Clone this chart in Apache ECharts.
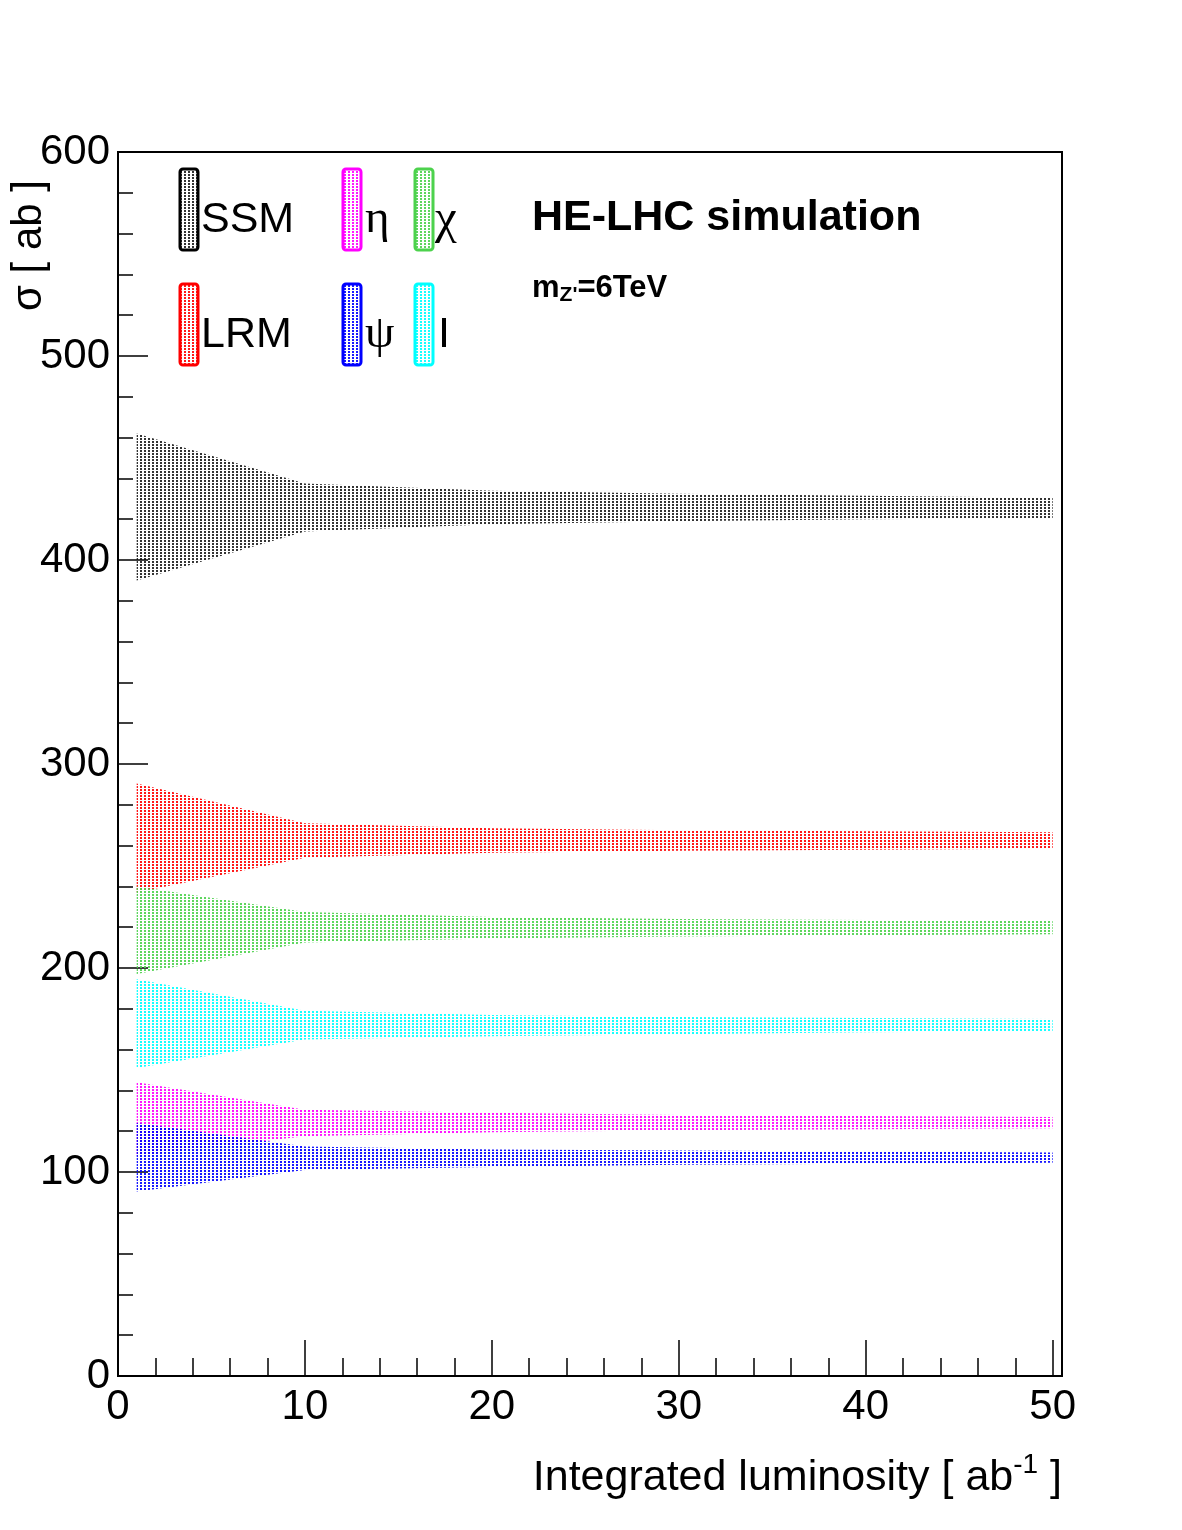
<!DOCTYPE html>
<html><head><meta charset="utf-8">
<script src="https://cdn.jsdelivr.net/npm/echarts@6/dist/echarts.min.js"></script>
<style>html,body{margin:0;padding:0;background:#fff}#c{width:1182px;height:1530px}</style>
</head><body><div id="c"></div>
<script>
// ---- data ----
const lumi = [1, 10, 20, 30, 40, 50];
const models = ['SSM', 'LRM', 'χ', 'I', 'η', 'ψ'];
const ssmUpper = [462, 437.5, 434, 432.5, 431.5, 430.5];
const ssmLower = [390, 414, 417.5, 419, 420, 420.5];
const lrmUpper = [290.5, 271, 268.5, 267.5, 267, 266.5];
const lrmLower = [237, 254, 256.5, 257.5, 258, 258.5];
const chiUpper = [240, 227.5, 225, 224, 223.5, 223];
const chiLower = [197, 212.5, 214.5, 215.5, 216, 216.5];
const iUpper = [194.5, 179, 177, 176, 175.5, 175];
const iLower = [151, 165, 166.5, 167.5, 168.5, 169];
const etaUpper = [144, 130.5, 129, 128, 127.5, 127];
const etaLower = [108, 117.5, 119.5, 120.5, 121, 121.5];
const psiUpper = [124, 112.5, 111, 110.5, 110, 109.5];
const psiLower = [90.5, 101, 102.5, 103.5, 104, 104.5];
const xMajorTicks = [0, 10, 20, 30, 40, 50];
const xMinorTicks = [0, 2, 4, 6, 8, 10, 12, 14, 16, 18, 20, 22, 24, 26, 28, 30, 32, 34, 36, 38, 40, 42, 44, 46, 48, 50];
const yTickLabels = [0, 100, 200, 300, 400, 500, 600];

const colors = {'SSM':'#000000','LRM':'#ff0000','χ':'#4dd24d','I':'#00ffff','η':'#ff00ff','ψ':'#0000ff'};
const bands = {
  'SSM': [ssmLower, ssmUpper], 'LRM': [lrmLower, lrmUpper], 'χ': [chiLower, chiUpper],
  'I': [iLower, iUpper], 'η': [etaLower, etaUpper], 'ψ': [psiLower, psiUpper]
};

function pattern(color, alpha) {
  const c = document.createElement('canvas');
  c.width = 4; c.height = 3;
  const g = c.getContext('2d');
  g.globalAlpha = alpha;
  g.fillStyle = color;
  g.fillRect(0, 0, 2, 2);
  return { image: c, repeat: 'repeat' };
}

const SANS = '"Liberation Sans", Arial, sans-serif';
const SERIF = '"Liberation Serif", "DejaVu Serif", serif';

const series = models.map(m => {
  const [lo, up] = bands[m];
  const fill = pattern(colors[m], m === 'SSM' ? 0.8 : 0.9);
  return {
    type: 'custom', name: m, silent: true, clip: true,
    data: [[lumi[0], lo[0]]],
    encode: { x: 0, y: 1 },
    renderItem: (params, api) => {
      const pts = [];
      for (let i = 0; i < lumi.length; i++) pts.push(api.coord([lumi[i], up[i]]));
      for (let i = lumi.length - 1; i >= 0; i--) pts.push(api.coord([lumi[i], lo[i]]));
      return { type: 'polygon', shape: { points: pts }, style: { fill: fill, stroke: null } };
    }
  };
});

// legend graphics
const legendPos = {
  'SSM': [180, 169, 201, SANS, 43], 'η': [343, 169, 365, SERIF, 47], 'χ': [415, 169, 435, SERIF, 49],
  'LRM': [180, 284, 201, SANS, 43], 'ψ': [343, 284, 365, SERIF, 47], 'I': [415, 284, 438, SANS, 43]
};
const graphic = [];
models.forEach(m => {
  const [bx, by, tx, ff, fs] = legendPos[m];
  graphic.push({
    type: 'rect', shape: { x: bx, y: by, width: 18, height: 81, r: 3 },
    style: { fill: pattern(colors[m], m === 'SSM' ? 0.8 : 0.9), stroke: colors[m], lineWidth: 3 }
  });
  graphic.push({
    type: 'text', x: tx, y: by + 51,
    style: { text: m, font: fs + 'px ' + ff, fill: '#000', align: 'left', verticalAlign: 'middle' }
  });
});
graphic.push({
  type: 'text', x: 532, y: 218,
  style: { text: 'HE-LHC simulation', font: 'bold 43px ' + SANS, fill: '#000', align: 'left', verticalAlign: 'middle' }
});
graphic.push({
  type: 'text', x: 532, y: 288,
  style: {
    text: '{b|m}{s|Z\'}{b|=6TeV}', fill: '#000', align: 'left', verticalAlign: 'middle',
    rich: {
      b: { fontSize: 31, fontWeight: 'bold', fontFamily: SANS, fill: '#000', lineHeight: 36 },
      s: { fontSize: 21, fontWeight: 'bold', fontFamily: SANS, fill: '#000', verticalAlign: 'bottom', lineHeight: 36, padding: [10, 0, 0, 0] }
    }
  }
});
graphic.push({
  type: 'text', x: 1062, y: 1478,
  style: {
    text: 'Integrated luminosity [ ab{sup|-1} ]', font: '43px ' + SANS, fill: '#000',
    align: 'right', verticalAlign: 'middle',
    rich: { sup: { fontSize: 28, fontFamily: SANS, fill: '#000', verticalAlign: 'top', padding: [0, 0, 26, 0] } }
  }
});
graphic.push({
  type: 'text', x: 29, y: 180, rotation: Math.PI / 2,
  style: { text: 'σ [ ab ]', font: '42px ' + SANS, fill: '#000', align: 'right', verticalAlign: 'middle' }
});

const chart = echarts.init(document.getElementById('c'), null, { renderer: 'canvas' });
chart.setOption({
  animation: false,
  backgroundColor: '#fff',
  grid: { left: 118, top: 152, width: 944, height: 1224, show: true, borderColor: '#000', borderWidth: 2, backgroundColor: 'transparent' },
  xAxis: [
    {
      type: 'value', min: 0, max: 50.5, gridIndex: 0, position: 'bottom',
      axisLine: { show: true, lineStyle: { color: '#000', width: 2 } },
      splitLine: { show: false },
      axisTick: { show: true, inside: true, length: 18, customValues: xMinorTicks, lineStyle: { color: '#000', width: 1.5 } },
      axisLabel: { customValues: xMajorTicks, fontSize: 42, color: '#000', fontFamily: SANS, margin: 10 }
    },
    {
      type: 'value', min: 0, max: 50.5, gridIndex: 0, position: 'bottom',
      axisLine: { show: false },
      splitLine: { show: false },
      axisTick: { show: true, inside: true, length: 36, customValues: xMajorTicks, lineStyle: { color: '#000', width: 1.5 } },
      axisLabel: { show: false }
    }
  ],
  yAxis: {
    type: 'value', min: 0, max: 600, interval: 100,
    axisLine: { show: true, lineStyle: { color: '#000', width: 2 } },
    splitLine: { show: false },
    axisTick: { show: true, inside: true, length: 30, lineStyle: { color: '#000', width: 1.5 } },
    minorTick: { show: true, splitNumber: 5, length: 15, lineStyle: { color: '#000', width: 1.5 } },
    minorSplitLine: { show: false },
    axisLabel: { fontSize: 42, color: '#000', fontFamily: SANS, margin: 8, padding: [6, 0, 0, 0], formatter: v => yTickLabels.includes(v) ? String(v) : '' }
  },
  series: series,
  graphic: graphic
});
</script></body></html>
